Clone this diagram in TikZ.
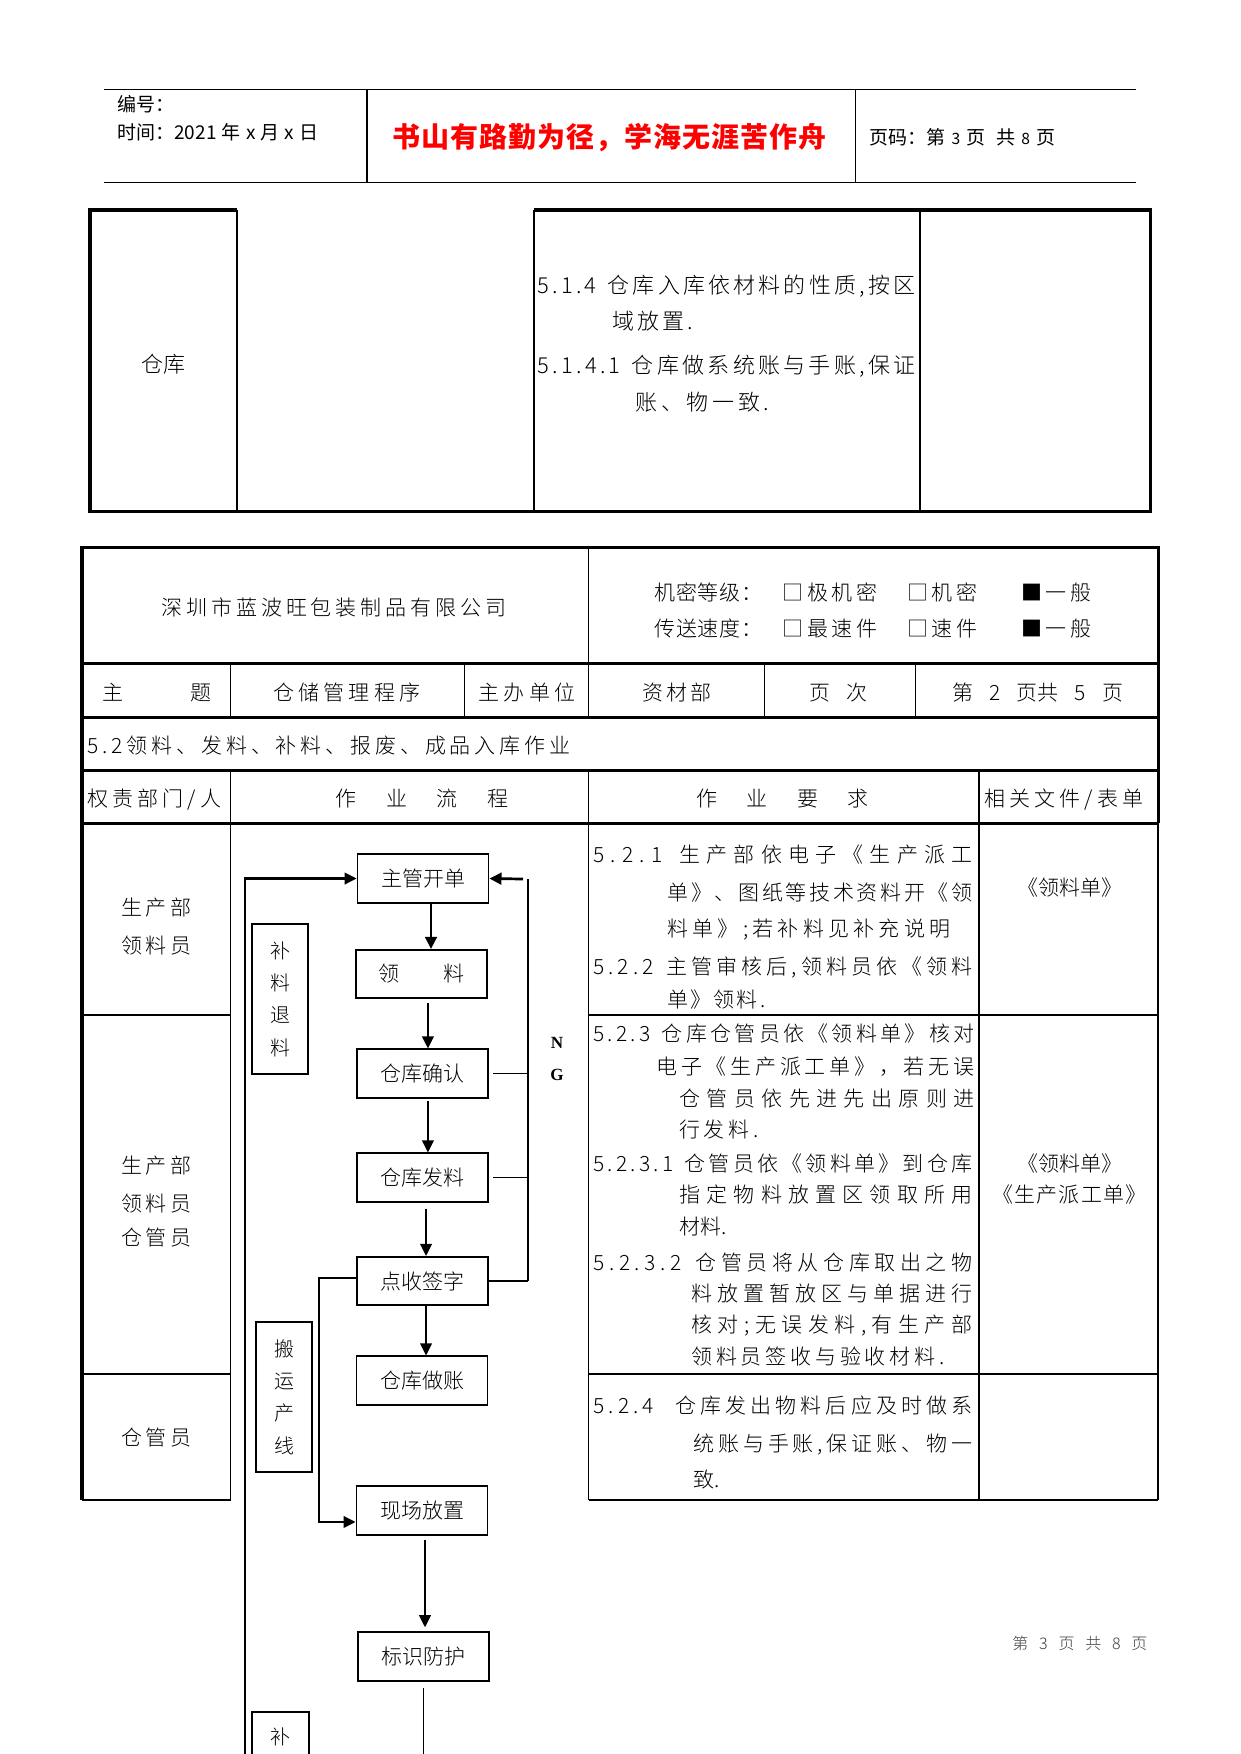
\documentclass[tikz,border=0pt]{standalone}
\usepackage{fontspec}
\setmainfont{Noto Sans CJK SC Light}
\newfontfamily\hei{Noto Sans CJK SC}
\newfontfamily\ngfont{Liberation Serif}
\usetikzlibrary{arrows.meta}
\newlength\ppx
\setlength\ppx{0.48pt}
\def\sprA#1{#1\sprB}
\def\sprB#1{\ifx#1\relax\else\hfil#1\expandafter\sprB\fi}
\newcommand\spr[2]{\makebox[#1\ppx][s]{\sprA#2\relax}}
\newcommand\fA{\fontsize{9.12}{11}\selectfont}
\newcommand\fB{\fontsize{10.08}{12}\selectfont}
\newcommand\fC{\fontsize{10.56}{12.5}\selectfont}
\newcommand\fR{\fontsize{13.44}{16}\selectfont}
\newcommand\fF{\fontsize{7.68}{9}\selectfont}
\begin{document}
\begin{tikzpicture}[x=0.48pt,y=-0.48pt,
  tx/.style={inner sep=0pt,anchor=base west,text=black},
  tcx/.style={inner sep=0pt,anchor=base,text=black},
  flowbox/.style={draw,line width=0.85pt,inner sep=0pt,minimum width=62.9pt,minimum height=23.2pt,font=\fB,text=black},
  sidebox/.style={draw,line width=0.8pt,inner sep=0pt,minimum width=26.9pt,minimum height=72pt,align=center,font=\fontsize{9.6}{15.5}\selectfont,text=black},
  arr/.style={-{Triangle[width=5.6pt,length=5.8pt]}},
  thk/.style={line width=1.45pt},
  thn/.style={line width=0.6pt},
]
\fill[white] (0,0) rectangle (1241,1754);
\useasboundingbox (0,0) rectangle (1241,1754);

% ---- page header ----
\draw[thn] (104,89.5) -- (1136,89.5);
\draw[thn] (104,182.4) -- (1136,182.4);
\draw[line width=0.9pt] (367,89.5) -- (367,182.4);
\draw[line width=0.45pt] (855,89.5) -- (855,182.4);
\node[tx,font=\hei\fA,text=black] (h1) at (117,111) {编号：};
\node[tx,font=\hei\fA,text=black] (h2) at (117,139) {时间：2021\hspace{2.5pt}年\hspace{2.5pt}x\hspace{2.5pt}月\hspace{2.5pt}x\hspace{2.5pt}日};
\node[tx,font=\hei\fR\bfseries,text=red] (h3) at (392,147) {\spr{434}{书山有路勤为径，学海无涯苦作舟}};
\node[tx,font=\hei\fA,text=black] (h4) at (869,144) {页码：第\hspace{3pt}{\fontsize{7.5}{9}\selectfont 3}\hspace{3pt}页\hspace{5pt}共\hspace{3pt}{\fontsize{7.5}{9}\selectfont 8}\hspace{3pt}页};

% ---- table 1 ----
\draw[thk] (237,210) -- (90,210) -- (90,511) -- (1150,511) -- (1150,210) -- (534,210);
\draw[thn] (237,210) -- (237,511) (534,210) -- (534,511) (920,210) -- (920,511);
\node[tcx,font=\fC] (c1) at (163,372) {仓库};
\node[tx,font=\fC] (r1) at (537,293) {\spr{378}{5.1.4~仓库入库依材料的性质,按区}};
\node[tx,font=\fC] (r2) at (612,329) {\spr{81}{域放置.}};
\node[tx,font=\fC] (r3) at (537,373) {\spr{378}{5.1.4.1~仓库做系统账与手账,保证}};
\node[tx,font=\fC] (r4) at (635,410) {\spr{134}{账、物一致.}};

% ---- main table ----
\draw[thk] (82,1500) -- (82,547) -- (1158,547) -- (1158,823);
\draw[line width=0.8pt] (1158,823) -- (1158,1500);
\foreach \yy in {663.6,717,770,823} \draw[thk] (82,\yy) -- (1158,\yy);
\draw[line width=0.8pt] (588.6,547) -- (588.6,717);
\draw[thn] (230.5,663.6) -- (230.5,717) (464.4,663.6) -- (464.4,717)
  (764.3,663.6) -- (764.3,717) (915.4,663.6) -- (915.4,717);
\draw[thn] (230.5,770) -- (230.5,1500) (588.6,770) -- (588.6,1500) (979,770) -- (979,1500);
\draw[thn] (82,1015) -- (230.5,1015) (588.6,1015) -- (1158,1015);
\draw[thn] (82,1374) -- (230.5,1374) (588.6,1374) -- (1158,1374);
\draw[thn] (82,1500) -- (230.5,1500) (588.6,1500) -- (1158,1500);

\node[tx,font=\fB] (co) at (161,615) {\spr{345}{深圳市蓝波旺包装制品有限公司}};
\node[tx,font=\fB] (k1) at (654,600) {\spr{108}{机密等级：}};
\node[tx,font=\fB] (k2) at (782,600) {\spr{95}{□极机密}};
\node[tx,font=\fB] (k3) at (907,600) {\spr{70}{□机密}};
\node[tx,font=\fB] (k4) at (1021,600) {\spr{70}{■一般}};
\node[tx,font=\fB] (k5) at (654,636) {\spr{108}{传送速度：}};
\node[tx,font=\fB] (k6) at (782,636) {\spr{95}{□最速件}};
\node[tx,font=\fB] (k7) at (907,636) {\spr{70}{□速件}};
\node[tx,font=\fB] (k8) at (1021,636) {\spr{70}{■一般}};

\node[tcx,font=\fB] (m1) at (113,700) {主};
\node[tcx,font=\fB] (m2) at (201,700) {题};
\node[tx,font=\fB] (m3) at (273,700) {\spr{147}{仓储管理程序}};
\node[tx,font=\fB] (m4) at (478,700) {\spr{97}{主办单位}};
\node[tx,font=\fB] (m5) at (642,700) {\spr{69}{资材部}};
\node[tcx,font=\fB] (m6) at (820,700) {页};
\node[tcx,font=\fB] (m7) at (857,700) {次};
\node[tx,font=\fB] (m8) at (952,700) {第\hspace{7.7pt}2\hspace{7.7pt}页共\hspace{7.7pt}5\hspace{7.7pt}页};

\node[tx,font=\fB] (sec) at (87,753) {\spr{483}{5.2领料、发料、补料、报废、成品入库作业}};

\node[tx,font=\fB] (q1) at (87,806) {\spr{134}{权责部门/人}};
\node[tx,font=\fB] (q2) at (335,806) {\spr{173}{作业流程}};
\node[tx,font=\fB] (q3) at (696,806) {\spr{172}{作业要求}};
\node[tx,font=\fB] (q4) at (984,806) {\spr{159}{相关文件/表单}};

% left column
\node[tx,font=\fB] (p1) at (121,915) {\spr{70}{生产部}};
\node[tx,font=\fB] (p2) at (121,953) {\spr{70}{领料员}};
\node[tx,font=\fB] (p3) at (121,1173) {\spr{70}{生产部}};
\node[tx,font=\fB] (p4) at (121,1211) {\spr{70}{领料员}};
\node[tx,font=\fB] (p5) at (121,1245) {\spr{70}{仓管员}};
\node[tx,font=\fB] (p6) at (121,1445) {\spr{70}{仓管员}};

% requirements
\node[tx,font=\fB] (a1) at (593,862) {\spr{379}{5.2.1~生产部依电子《生产派工}};
\node[tx,font=\fB] (a2) at (667,900) {\spr{305}{单》、图纸等技术资料开《领}};
\node[tx,font=\fB] (a3) at (667,936) {\spr{283}{料单》;若补料见补充说明}};
\node[tx,font=\fB] (a4) at (593,974) {\spr{379}{5.2.2~主管审核后,领料员依《领料}};
\node[tx,font=\fB] (a5) at (667,1007) {\spr{98}{单》领料.}};

\node[tx,font=\fB] (bb1) at (593,1041) {\spr{381}{5.2.3~仓库仓管员依《领料单》核对}};
\node[tx,font=\fB] (bb2) at (656,1074) {\spr{318}{电子《生产派工单》，若无误}};
\node[tx,font=\fB] (bb3) at (679,1106) {\spr{295}{仓管员依先进先出原则进}};
\node[tx,font=\fB] (bb4) at (679,1137) {\spr{79}{行发料.}};
\node[tx,font=\fB] (bb5) at (593,1171) {\spr{379}{5.2.3.1~仓管员依《领料单》到仓库}};
\node[tx,font=\fB] (bb6) at (679,1202) {\spr{293}{指定物料放置区领取所用}};
\node[tx,font=\fB] (bb7) at (679,1234) {材料.};
\node[tx,font=\fB] (bb8) at (593,1270) {\spr{379}{5.2.3.2~仓管员将从仓库取出之物}};
\node[tx,font=\fB] (bb9) at (691,1301) {\spr{281}{料放置暂放区与单据进行}};
\node[tx,font=\fB] (bb10) at (691,1332) {\spr{281}{核对;无误发料,有生产部}};
\node[tx,font=\fB] (bb11) at (691,1364) {\spr{253}{领料员签收与验收材料.}};

\node[tx,font=\fB] (cc1) at (593,1413) {\spr{379}{5.2.4~~仓库发出物料后应及时做系}};
\node[tx,font=\fB] (cc2) at (693,1451) {\spr{279}{统账与手账,保证账、物一}};
\node[tx,font=\fB] (cc3) at (693,1487) {致.};

% documents
\node[tx,font=\fB] (d1) at (1017,895) {\spr{101}{《领料单》}};
\node[tx,font=\fB] (d2) at (1017,1171) {\spr{101}{《领料单》}};
\node[tx,font=\fB] (d3) at (992,1202) {\spr{154}{《生产派工单》}};

% ---- flow chart ----
\node[flowbox] (b1) at (423,878.5) {主管开单};
\node[flowbox] (b2) at (421.5,974) {领\hspace{21pt}料};
\node[flowbox] (b3) at (422.5,1073.5) {仓库确认};
\node[flowbox] (b4) at (422.5,1177.5) {仓库发料};
\node[flowbox] (b5) at (422.5,1281) {点收签字};
\node[flowbox] (b6) at (422,1380.5) {仓库做账};
\node[flowbox] (b7) at (422,1510.5) {现场放置};
\node[flowbox] (b8) at (423.5,1656.5) {标识防护};

\node[sidebox] (s1) at (280,999) {补\\料\\退\\料};
\node[sidebox] (s2) at (284,1397) {搬\\运\\产\\线};
\draw[line width=0.8pt] (252,1754) -- (252,1712) -- (309,1712) -- (309,1754);
\node[font=\fontsize{9.6}{11}\selectfont,inner sep=0pt,text=black] (s3) at (280.5,1737) {补};

\draw[arr,line width=1.3pt] ([xshift=3.84pt]b1.south) -- ([xshift=3.84pt]b1.south |- b2.north);
\draw[arr,line width=0.85pt,shorten <=1.9pt] ([xshift=3.1pt]b2.south) -- ([xshift=3.1pt]b2.south |- b3.north);
\draw[arr,line width=0.85pt,shorten <=1pt] ([xshift=2.6pt]b3.south) -- ([xshift=2.6pt]b3.south |- b4.north);
\draw[arr,line width=0.85pt,shorten <=2.9pt] ([xshift=1.7pt]b4.south) -- ([xshift=1.7pt]b4.south |- b5.north);
\draw[arr,line width=0.85pt] ([xshift=1.7pt]b5.south) -- ([xshift=1.7pt]b5.south |- b6.north);
\draw[arr,line width=0.8pt,shorten <=1.9pt,shorten >=2pt] ([xshift=1.44pt]b7.south) -- ([xshift=1.44pt]b7.south |- b8.north);
\coordinate (bend) at (424,1754);
\draw[line width=0.8pt,shorten <=2.9pt] (b8.south) -- (b8.south |- bend);

\coordinate (lb) at (245,1754);
\draw[arr,line width=1pt] (lb) |- (b1.west);

\draw[arr,line width=0.95pt] ([yshift=1.4pt]b5.west) -- ++(-37,0) |- ([yshift=-5.5pt]b7.west);

\coordinate (ng) at (528,879);
\draw[line width=0.9pt] (ng) -- (ng |- b5.east);
\draw[thn] ([xshift=2pt]b3.east) -- (b3.east -| ng);
\draw[thn] ([xshift=2pt]b4.east) -- (b4.east -| ng);
\draw[thn] (b5.east) -- (b5.east -| ng);
\draw[arr,line width=1.3pt] ([xshift=-2.4pt]ng) -- (b1.east);
\node[font={\ngfont\bfseries\fontsize{8.2}{10}\selectfont},inner sep=0pt] (n1) at (557,1043) {N};
\node[font={\ngfont\bfseries\fontsize{8.2}{10}\selectfont},inner sep=0pt] (n2) at (557,1075) {G};

% footer
\node[tx,font=\fF,text=black!75] (ft) at (1012,1649) {\spr{135}{第3页共8页}};
\end{tikzpicture}
\end{document}
